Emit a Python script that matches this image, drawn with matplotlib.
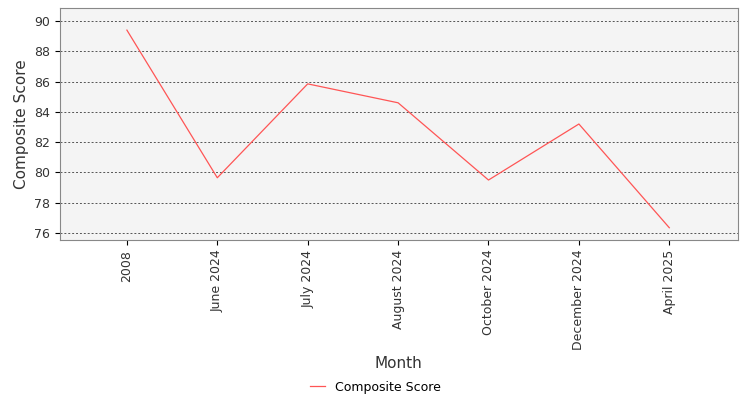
import matplotlib
matplotlib.use("Agg")
import matplotlib.pyplot as plt

months = ["2008", "June 2024", "July 2024", "August 2024", "October 2024", "December 2024", "April 2025"]
scores = [89.4, 79.65, 85.85, 84.6, 79.5, 83.2, 76.35]

fig = plt.figure(figsize=(7.5, 4.0), dpi=100)
ax = fig.add_axes([60/750, 1-240/400, 678/750, 232/400])
ax.set_facecolor("#f4f4f4")
x = list(range(len(months)))
ax.plot(x, scores, color="#ff5555", linewidth=0.9, label="Composite Score")
ax.set_xlim(-0.74, 6.76)
ax.set_ylim(75.54, 90.86)
ax.set_yticks([76, 78, 80, 82, 84, 86, 88, 90])
ax.set_xticks(x)
ax.set_xticklabels(months, rotation=90, fontsize=9, color="#333333")
ax.tick_params(axis="y", labelsize=9, labelcolor="#333333")
ax.grid(axis="y", linestyle=(0, (2, 2)), color="#555555", linewidth=0.7)
for s in ax.spines.values():
    s.set_color("#888888")
ax.set_ylabel("Composite Score", fontsize=11, color="#333333")
fig.text(398/750, 1-364/400, "Month", fontsize=11, color="#333333", ha="center", va="center")
fig.legend(loc="center", bbox_to_anchor=(0.5, 1-387/400), frameon=False, fontsize=9, handlelength=1.2)
fig.savefig("out.png")
